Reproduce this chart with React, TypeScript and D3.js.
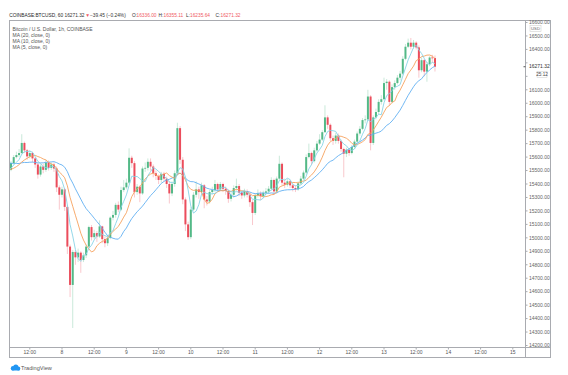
import React, { useRef, useEffect } from 'react';
import * as d3 from 'd3';

// 20 hourly closes before the first visible candle, only used to seed the moving averages
const historyCloses = [15625, 15640, 15615, 15630, 15600, 15595, 15620, 15585, 15570, 15590, 15545, 15525, 15500, 15480, 15510, 15495, 15480, 15515, 15530, 15505];

// visible 1h candles, Nov 7 05:00 -> Nov 13 18:00 (open = previous close)
const closes = [
  15556, 15600, 15615, 15630, 15705, 15650, 15605, 15630, 15590, 15545,
  15470, 15530, 15505, 15560, 15520, 15545, 15515, 15375, 15320, 15360,
  15230, 14935, 14650, 14895, 14855, 14890, 14835, 14870, 14935, 15080,
  15005, 15035, 15010, 15085, 14990, 14960, 15000, 15150, 15170, 15245,
  15210, 15355, 15375, 15410, 15595, 15555, 15340, 15380, 15330, 15515,
  15520, 15565, 15530, 15480, 15460, 15430, 15475, 15440, 15400, 15330,
  15400, 15480, 15815, 15580, 15285, 15100, 15005, 15210, 15320, 15360,
  15340, 15390, 15285, 15270, 15340, 15355, 15400, 15360, 15400, 15365,
  15350, 15290, 15320, 15370, 15385, 15335, 15315, 15345, 15320, 15265,
  15185, 15315, 15330, 15310, 15335, 15345, 15365, 15430, 15345, 15440,
  15550, 15410, 15395, 15420, 15390, 15370, 15360, 15405, 15440, 15485,
  15600, 15630, 15570, 15650, 15700, 15730, 15785, 15895, 15840, 15740,
  15720, 15760, 15720, 15660, 15625, 15655, 15630, 15675, 15715, 15775,
  15810, 15875, 15880, 16050, 15705, 15895, 15935, 16010, 16030, 16150,
  16160, 16010, 16120, 16150, 16190, 16220, 16330, 16420, 16450, 16420,
  16450, 16415, 16245, 16320, 16235, 16290, 16340, 16336, 16271.32,
];
const highs = [
  15570, 15615, 15640, 15660, 15770, 15715, 15660, 15650, 15640, 15600,
  15560, 15545, 15550, 15580, 15575, 15560, 15560, 15530, 15390, 15380,
  15370, 15245, 14950, 14910, 14910, 14920, 14900, 14890, 14950, 15090,
  15095, 15060, 15050, 15130, 15090, 15010, 15020, 15160, 15200, 15260,
  15270, 15380, 15430, 15440, 15665, 15610, 15570, 15400, 15390, 15530,
  15560, 15590, 15590, 15545, 15500, 15470, 15490, 15490, 15455, 15420,
  15420, 15500, 15855, 15830, 15600, 15300, 15120, 15230, 15340, 15420,
  15380, 15410, 15400, 15310, 15355, 15380, 15430, 15410, 15415, 15410,
  15380, 15360, 15340, 15390, 15440, 15400, 15350, 15365, 15360, 15330,
  15280, 15330, 15360, 15345, 15350, 15370, 15385, 15450, 15440, 15455,
  15610, 15560, 15440, 15440, 15430, 15400, 15390, 15420, 15460, 15500,
  15620, 15700, 15640, 15670, 15720, 15770, 15800, 15985, 15910, 15850,
  15760, 15780, 15775, 15730, 15670, 15670, 15665, 15690, 15730, 15790,
  15830, 15890, 15910, 16100, 16060, 15910, 15960, 16030, 16060, 16190,
  16180, 16170, 16140, 16170, 16210, 16240, 16350, 16440, 16480, 16485,
  16470, 16460, 16430, 16340, 16330, 16305, 16350, 16360, 16355.11,
];
const lows = [
  15495, 15545, 15590, 15600, 15620, 15630, 15580, 15590, 15560, 15520,
  15440, 15455, 15480, 15490, 15500, 15505, 15490, 15340, 15210, 15300,
  15200, 14880, 14560, 14330, 14800, 14820, 14740, 14820, 14850, 14920,
  14980, 14990, 14970, 15000, 14960, 14930, 14940, 14990, 15130, 15150,
  15190, 15200, 15340, 15360, 15400, 15520, 15300, 15320, 15265, 15320,
  15490, 15500, 15500, 15450, 15430, 15400, 15410, 15420, 15370, 15255,
  15310, 15380, 15460, 15550, 15250, 15050, 14985, 14990, 15200, 15300,
  15290, 15320, 15220, 15240, 15255, 15320, 15340, 15340, 15350, 15340,
  15320, 15260, 15270, 15300, 15350, 15310, 15290, 15300, 15300, 15230,
  15095, 15170, 15300, 15280, 15295, 15320, 15330, 15350, 15320, 15330,
  15430, 15390, 15370, 15380, 15370, 15345, 15340, 15350, 15395, 15430,
  15470, 15590, 15540, 15560, 15640, 15690, 15720, 15780, 15810, 15720,
  15690, 15700, 15700, 15640, 15450, 15600, 15610, 15620, 15660, 15700,
  15760, 15800, 15850, 15870, 15650, 15690, 15880, 15920, 15990, 16020,
  16100, 15980, 16000, 16100, 16140, 16170, 16210, 16320, 16410, 16400,
  16405, 16400, 16190, 16230, 16200, 16160, 16275, 16300, 16235.64,
];

const maPeriods = [20, 10, 5];
const maColors = ['#62b0f2', '#f6a25e', '#88d4e6'];
const legendLines = ['Bitcoin / U.S. Dollar, 1h, COINBASE', 'MA (20, close, 0)', 'MA (10, close, 0)', 'MA (5, close, 0)'];
const priceDomain = [14200, 16600];
const lastPrice = 16271.32;
const countdown = '25:12';

const UP = '#53b987';
const DOWN = '#eb4d5c';
const RED_TXT = '#ef5a64';
const FONT = '"Liberation Sans", Arial, sans-serif';

const App = () => {
  const ref = useRef(null);

  useEffect(() => {
    const svg = d3.select(ref.current);
    svg.selectAll('*').remove();

    const left = 9.5, right = 525.5, top = 20.5, bottom = 347.5, outerRight = 550.5, outerBottom = 357.5;

    const start = new Date(2020, 10, 7, 5);
    const all = historyCloses.concat(closes);
    const nh = historyCloses.length;
    const times = all.map((_, i) => d3.timeHour.offset(start, i - nh));

    const x = d3.scaleTime()
      .domain([new Date(2020, 10, 8, 0), new Date(2020, 10, 15, 0)])
      .range([62, 62 + 7 * 64.4]);
    const y = d3.scaleLinear().domain(priceDomain).range([345.5, 22.5]);

    svg.append('rect').attr('width', 568).attr('height', 375).attr('fill', '#fff');

    svg.append('clipPath').attr('id', 'plotclip')
      .append('rect').attr('x', left).attr('y', top).attr('width', right - left).attr('height', bottom - top);
    const g = svg.append('g').attr('clip-path', 'url(#plotclip)');

    // candles
    const candles = closes.map((c, i) => {
      const o = i === 0 ? historyCloses[nh - 1] : closes[i - 1];
      return { t: times[nh + i], o, c, h: Math.max(highs[i], o, c), l: Math.min(lows[i], o, c) };
    });

    g.selectAll('.wick').data(candles).enter().append('line')
      .attr('x1', (d) => x(d.t)).attr('x2', (d) => x(d.t))
      .attr('y1', (d) => y(d.h)).attr('y2', (d) => y(d.l))
      .attr('stroke', (d) => (d.c >= d.o ? UP : DOWN))
      .attr('stroke-opacity', 0.35)
      .attr('stroke-width', 0.9);

    g.selectAll('.body').data(candles).enter().append('rect')
      .attr('x', (d) => x(d.t) - 1)
      .attr('width', 2)
      .attr('y', (d) => y(Math.max(d.o, d.c)))
      .attr('height', (d) => Math.max(0.8, Math.abs(y(d.o) - y(d.c))))
      .attr('fill', (d) => (d.c >= d.o ? UP : DOWN));

    // moving averages
    maPeriods.forEach((p, k) => {
      const pts = [];
      for (let i = p - 1; i < all.length; i++) {
        pts.push([times[i], d3.mean(all.slice(i - p + 1, i + 1))]);
      }
      g.append('path')
        .datum(pts)
        .attr('fill', 'none')
        .attr('stroke', maColors[k])
        .attr('stroke-width', 0.9)
        .attr('d', d3.line().x((d) => x(d[0])).y((d) => y(d[1])));
    });

    // frame
    const border = '#a9abb0';
    const frame = svg.append('g').attr('stroke', border).attr('stroke-width', 1).attr('fill', 'none');
    frame.append('rect').attr('x', left).attr('y', top).attr('width', outerRight - left).attr('height', outerBottom - top);
    frame.append('line').attr('x1', right).attr('x2', right).attr('y1', top).attr('y2', outerBottom);
    frame.append('line').attr('x1', left).attr('x2', outerRight).attr('y1', bottom).attr('y2', bottom);

    // price axis (labels hidden behind the last-price and countdown boxes are skipped)
    const ly = y(lastPrice);
    const pAxis = svg.append('g').attr('font-family', FONT).attr('font-size', 5).attr('fill', '#666');
    y.ticks(24).forEach((p) => {
      pAxis.append('line').attr('x1', right).attr('x2', right + 2).attr('y1', y(p)).attr('y2', y(p)).attr('stroke', border);
      if (Math.abs(y(p) - ly) < 6 || Math.abs(y(p) - (ly + 8)) < 5) return;
      pAxis.append('text').attr('x', 529).attr('y', y(p)).attr('dy', '0.35em').text(d3.format('.2f')(p));
    });
    // currency box
    pAxis.append('rect').attr('x', 530).attr('y', 25.5).attr('width', 11).attr('height', 6).attr('fill', '#fff').attr('stroke', '#c8c8c8').attr('stroke-width', 0.5);
    pAxis.append('text').attr('x', 535.5).attr('y', 28.5).attr('dy', '0.35em').attr('text-anchor', 'middle').attr('font-size', 4.2).text('USD');
    // last price + countdown
    svg.append('line').attr('x1', right - 2).attr('x2', right).attr('y1', ly).attr('y2', ly).attr('stroke', '#555');
    pAxis.append('rect').attr('x', 526.5).attr('y', ly - 3).attr('width', 23).attr('height', 6).attr('fill', '#fff');
    pAxis.append('text').attr('x', 529).attr('y', ly).attr('dy', '0.35em').attr('fill', '#333').text(d3.format('.2f')(lastPrice));
    pAxis.append('rect').attr('x', 537).attr('y', ly + 4.5).attr('width', 10).attr('height', 6).attr('fill', '#fff').attr('stroke', '#c8c8c8').attr('stroke-width', 0.5);
    pAxis.append('text').attr('x', 542).attr('y', ly + 7.5).attr('dy', '0.35em').attr('text-anchor', 'middle').attr('fill', '#444').attr('font-size', 4.6).text(countdown);

    // time axis
    const tAxis = svg.append('g').attr('font-family', FONT).attr('font-size', 5).attr('fill', '#555').attr('text-anchor', 'middle');
    d3.timeHour.every(12).range(new Date(2020, 10, 7, 12), new Date(2020, 10, 15, 1)).forEach((t) => {
      const tx = x(t);
      tAxis.append('line').attr('x1', tx).attr('x2', tx).attr('y1', bottom).attr('y2', bottom + 2).attr('stroke', border);
      tAxis.append('text').attr('x', tx).attr('y', 354.3).text(t.getHours() === 0 ? d3.timeFormat('%-d')(t) : d3.timeFormat('%H:%M')(t));
    });

    // header
    const head = svg.append('g').attr('font-family', FONT).attr('font-size', 4.8).attr('fill', '#333');
    const headerParts = [
      ['COINBASE:BTCUSD, 60', 9.3, '#1e1e1e'],
      ['16271.32', 64.5, '#333'],
      ['\u25BC', 85.2, RED_TXT],
      ['\u221239.45 (\u22120.24%)', 90, '#333'],
      ['O:', 132, '#333'],
      ['16336.00', 136.5, RED_TXT],
      ['H:', 158.5, '#333'],
      ['16355.11', 163.5, RED_TXT],
      ['L:', 186, '#333'],
      ['16235.64', 190, RED_TXT],
      ['C:', 215.5, '#333'],
      ['16271.32', 220.5, RED_TXT],
    ];
    headerParts.forEach(([s, hx, c]) => {
      head.append('text').attr('x', hx).attr('y', 16.8).attr('fill', c).text(s);
    });

    // legend
    const leg = svg.append('g').attr('font-family', FONT).attr('font-size', 5).attr('fill', '#555');
    legendLines.forEach((s, i) => {
      leg.append('text').attr('x', 12.5).attr('y', 30.5 + i * 6.2).text(s);
    });

    // TradingView mark
    const logo = svg.append('g').attr('transform', 'translate(10,365)').attr('fill', '#2196f3');
    logo.append('circle').attr('cx', 3).attr('cy', 3.2).attr('r', 2.2);
    logo.append('circle').attr('cx', 5.8).attr('cy', 2.2).attr('r', 2.6);
    logo.append('circle').attr('cx', 8.3).attr('cy', 3.4).attr('r', 2);
    logo.append('rect').attr('x', 1.5).attr('y', 3.2).attr('width', 8.5).attr('height', 2.2).attr('rx', 1);
    svg.append('text').attr('x', 21).attr('y', 370).attr('font-family', FONT).attr('font-size', 5.6).attr('fill', '#555').text('TradingView');
  }, []);

  return (
    <svg ref={ref} width={568} height={375} style={{ position: 'absolute', left: 0, top: 0, display: 'block' }} />
  );
};

export default App;
